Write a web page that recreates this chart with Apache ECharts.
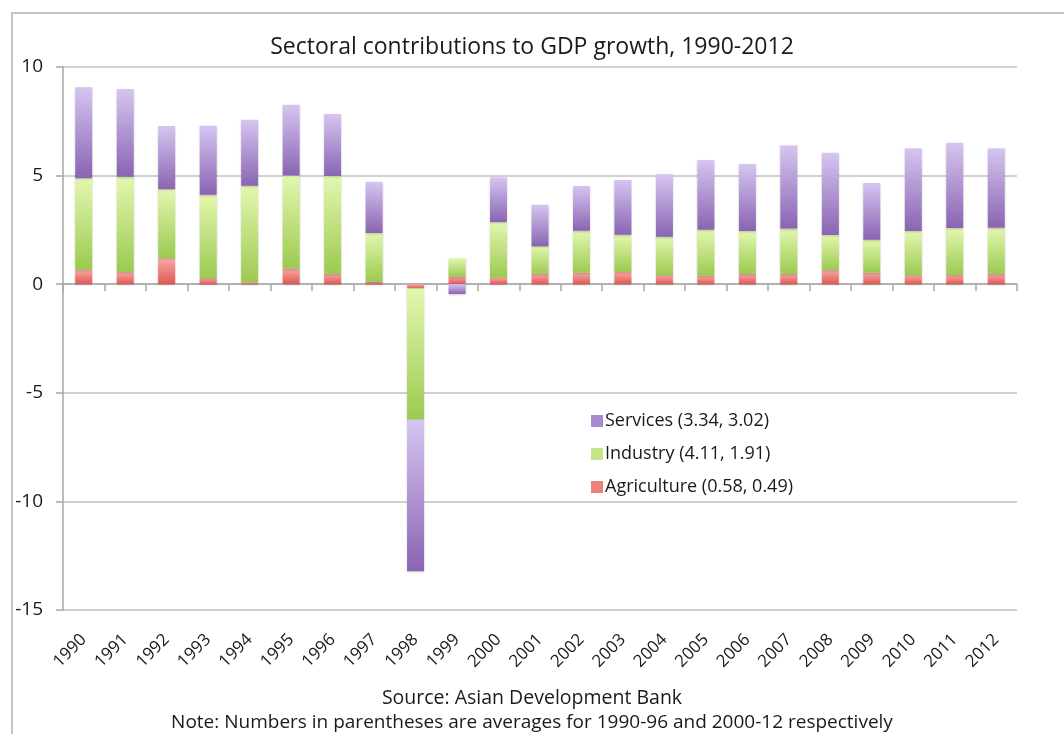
<!DOCTYPE html>
<html>
<head>
<meta charset="utf-8">
<script src="https://cdn.jsdelivr.net/npm/echarts@6/dist/echarts.min.js"></script>
<style>
  html, body { margin: 0; padding: 0; background: #fff; }
  #chart { width: 1064px; height: 734px; }
</style>
</head>
<body>
<div id="chart"></div>
<script>
// Sectoral contributions to GDP growth (percentage points)
const years = ['1990','1991','1992','1993','1994','1995','1996','1997','1998','1999','2000','2001',
               '2002','2003','2004','2005','2006','2007','2008','2009','2010','2011','2012'];
const agriculture = [0.66, 0.56, 1.20, 0.28, 0.08, 0.72, 0.48, 0.12, -0.20, 0.35, 0.31, 0.48,
                     0.53, 0.56, 0.41, 0.39, 0.48, 0.48, 0.65, 0.53, 0.41, 0.42, 0.48];
const industry    = [4.22, 4.39, 3.17, 3.84, 4.45, 4.29, 4.50, 2.24, -6.04, 0.85, 2.55, 1.26,
                     1.93, 1.72, 1.78, 2.12, 1.97, 2.08, 1.61, 1.52, 2.04, 2.17, 2.12];
const services    = [4.19, 4.04, 2.91, 3.18, 3.04, 3.25, 2.86, 2.36, -6.98, -0.45, 2.06, 1.92,
                     2.06, 2.52, 2.87, 3.21, 3.08, 3.83, 3.79, 2.61, 3.80, 3.92, 3.65];
const seriesNames = ['Agriculture (0.58, 0.49)', 'Industry (4.11, 1.91)', 'Services (3.34, 3.02)'];
const legendOrder = [seriesNames[2], seriesNames[1], seriesNames[0]];

const FONT = '"Open Sans", sans-serif';
const AXIS_GREY = '#a6a6a6';
const TEXT = '#1a1a1a';

const palette = {
  agriculture: { light: '#f7aaa5', dark: '#de5853', flat: '#ef7f7a' },
  industry:    { light: '#e3f7b0', dark: '#9cca50', flat: '#c4e68a' },
  services:    { light: '#d6c5f0', dark: '#8964b3', flat: '#a98bcf' }
};

// Each segment fades from light at its upper edge to dark at its lower edge.
function segmentGradient(key) {
  const p = palette[key];
  return new echarts.graphic.LinearGradient(0, 0, 0, 1, [
    { offset: 0, color: p.light },
    { offset: 1, color: p.dark }
  ]);
}

function barSeries(name, values, key) {
  return {
    name: name,
    type: 'bar',
    stack: 'total',
    xAxisIndex: 0,
    barWidth: 17,
    data: values,
    itemStyle: {
      color: segmentGradient(key),
      shadowColor: 'rgba(0,0,0,0.18)',
      shadowBlur: 2,
      shadowOffsetY: 1
    },
    emphasis: { disabled: true }
  };
}

const chart = echarts.init(document.getElementById('chart'));
chart.setOption({
  animation: false,
  backgroundColor: '#ffffff',
  textStyle: { fontFamily: FONT },
  title: {
    text: 'Sectoral contributions to GDP growth, 1990-2012',
    left: 'center',
    top: 31,
    textStyle: { fontFamily: FONT, fontSize: 23, fontWeight: 'normal', color: TEXT }
  },
  graphic: [
    {
      type: 'rect',
      shape: { x: 12, y: 13, width: 1080, height: 760 },
      style: { fill: 'none', stroke: '#c4c4c4', lineWidth: 2 },
      silent: true, z: -1
    },
    {
      type: 'text', left: 'center', top: 688,
      style: { text: 'Source: Asian Development Bank', font: '19.5px ' + FONT, fill: TEXT }
    },
    {
      type: 'text', left: 'center', top: 713,
      style: { text: 'Note: Numbers in parentheses are averages for 1990-96 and 2000-12 respectively',
               font: '19px ' + FONT, fill: TEXT }
    }
  ],
  legend: {
    orient: 'vertical',
    left: 586,
    top: 407,
    itemWidth: 12,
    itemHeight: 12,
    itemGap: 15,
    icon: 'rect',
    textStyle: { fontFamily: FONT, fontSize: 18, color: TEXT, padding: [0, 0, 0, -3] },
    data: [
      { name: legendOrder[0], itemStyle: { color: palette.services.flat } },
      { name: legendOrder[1], itemStyle: { color: palette.industry.flat } },
      { name: legendOrder[2], itemStyle: { color: palette.agriculture.flat } }
    ]
  },
  grid: { left: 63, top: 67, right: 47, bottom: 124, containLabel: false },
  xAxis: [
    {
      type: 'category',
      data: years,
      position: 'bottom',
      axisLine: { show: false, onZero: false },
      axisTick: { show: false },
      axisLabel: {
        rotate: 45, interval: 0, margin: 27,
        fontFamily: FONT, fontSize: 17, color: TEXT
      }
    },
    {
      type: 'category',
      data: years,
      position: 'top',
      axisLine: { show: true, onZero: true, lineStyle: { color: AXIS_GREY, width: 1.5 } },
      axisTick: { show: true, inside: true, length: 7, lineStyle: { color: AXIS_GREY, width: 1.5 } },
      axisLabel: { show: false },
      splitLine: { show: false }
    }
  ],
  yAxis: {
    type: 'value',
    min: -15, max: 10, interval: 5,
    axisLine: { show: true, lineStyle: { color: AXIS_GREY, width: 1.5 } },
    axisTick: { show: true, length: 7, lineStyle: { color: AXIS_GREY, width: 1.5 } },
    axisLabel: { margin: 20, fontFamily: FONT, fontSize: 19, color: TEXT },
    splitLine: { show: true, lineStyle: { color: '#c2c2c2', width: 1.5 } }
  },
  series: [
    barSeries(seriesNames[0], agriculture, 'agriculture'),
    barSeries(seriesNames[1], industry, 'industry'),
    barSeries(seriesNames[2], services, 'services')
  ]
});
</script>
</body>
</html>
